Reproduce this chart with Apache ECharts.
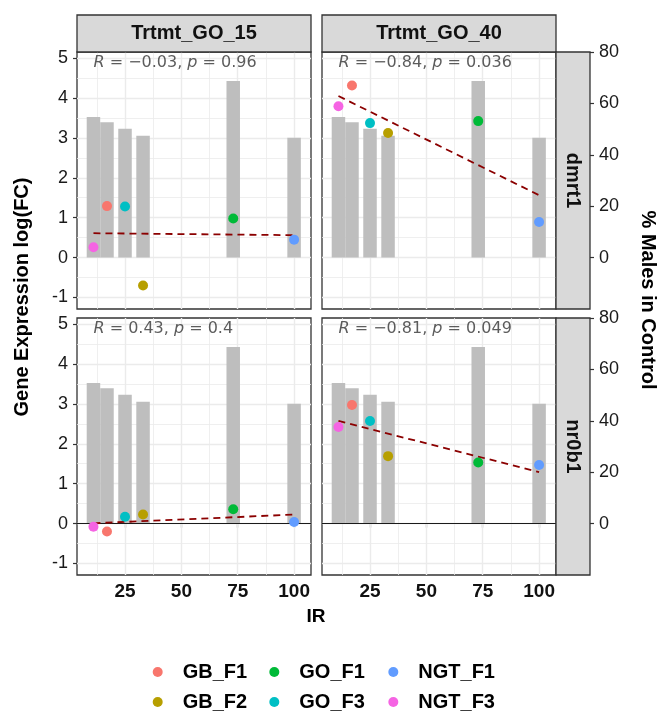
<!DOCTYPE html>
<html><head><meta charset="utf-8">
<script src="https://cdn.jsdelivr.net/npm/echarts@6/dist/echarts.min.js"></script>
<style>html,body{margin:0;padding:0;background:#fff}#c{width:662px;height:717px}</style>
</head><body><div id="c"></div>
<script>
// ---------------- data ----------------
const groups = ['GB_F1', 'GB_F2', 'GO_F1', 'GO_F3', 'NGT_F1', 'NGT_F3'];
const groupColors = ['#F8766D', '#B79F00', '#00BA38', '#00BFC4', '#619CFF', '#F564E3'];
const irValues = [17, 33, 73, 25, 100, 11];
const malesInControl = [52.7, 47.4, 68.7, 50.1, 46.6, 54.7];
const treatments = ['Trtmt_GO_15', 'Trtmt_GO_40'];
const genes = ['dmrt1', 'nr0b1'];
const dmrt1_GO15 = [1.29, -0.70, 0.98, 1.28, 0.45, 0.26];
const dmrt1_GO40 = [4.31, 3.12, 3.42, 3.37, 0.89, 3.79];
const nr0b1_GO15 = [-0.20, 0.23, 0.36, 0.17, 0.04, -0.08];
const nr0b1_GO40 = [2.97, 1.69, 1.53, 2.57, 1.47, 2.42];
const corR = [-0.03, -0.84, 0.43, -0.81];
const corP = ['0.96', '0.036', '0.4', '0.049'];
const xTicks = [25, 50, 75, 100];
const yTicks = [-1, 0, 1, 2, 3, 4, 5];
const secTicks = [0, 20, 40, 60, 80];

// ---------------- layout / scales ----------------
const F = 15.53;            // % males per logFC unit (secondary axis)
const SEC_MIN = -20, SEC_MAX = 80;
const X_MIN = 3.7, X_MAX = 107.5;
const PL = [77, 322], PT = [52, 318], PW = 234, PH = 257, STRIP = 34, STRIP_TOP = 15;
const FONT = 'Liberation Sans';

const panels = [
  { row: 0, col: 0, values: dmrt1_GO15, r: corR[0], p: corP[0] },
  { row: 0, col: 1, values: dmrt1_GO40, r: corR[1], p: corP[1] },
  { row: 1, col: 0, values: nr0b1_GO15, r: corR[2], p: corP[2] },
  { row: 1, col: 1, values: nr0b1_GO40, r: corR[3], p: corP[3] }
];

function minorOf(ticks, lo, hi) {
  const step = ticks[1] - ticks[0];
  const out = [];
  const cand = [ticks[0] - step / 2].concat(ticks.map(t => t + step / 2));
  cand.forEach(v => { if (v > lo && v < hi) out.push(v); });
  return out;
}
function fit(xs, ys) {
  const n = xs.length;
  const mx = xs.reduce((a, b) => a + b, 0) / n, my = ys.reduce((a, b) => a + b, 0) / n;
  let sxy = 0, sxx = 0;
  for (let i = 0; i < n; i++) { sxy += (xs[i] - mx) * (ys[i] - my); sxx += (xs[i] - mx) ** 2; }
  const b = sxy / sxx; return { a: my - b * mx, b };
}
const fmtR = r => (r < 0 ? '−' : '') + Math.abs(r).toFixed(2);

const xMinor = minorOf(xTicks, X_MIN, X_MAX);
const yMinor = minorOf(yTicks, SEC_MIN / F, SEC_MAX / F);

const grids = [], xAxes = [], yAxes = [], series = [];
panels.forEach((pn, k) => {
  const bottom = pn.row === 1, left = pn.col === 0, right = pn.col === 1;
  grids.push({ left: PL[pn.col], top: PT[pn.row], width: PW, height: PH, show: true,
    backgroundColor: '#fff', borderColor: '#333', borderWidth: 1.3, containLabel: false, outerBoundsMode: 'none' });
  xAxes.push({ type: 'value', gridIndex: k, min: X_MIN, max: X_MAX,
    axisLine: { show: false }, splitLine: { show: false },
    axisTick: { show: bottom, length: 4, lineStyle: { color: '#333', width: 1.2 }, customValues: xTicks },
    axisLabel: { show: bottom, customValues: xTicks, fontSize: 19, fontWeight: 'bold', color: '#111', margin: 7, fontFamily: FONT } });
  yAxes.push({ type: 'value', gridIndex: k, position: 'left', min: SEC_MIN / F, max: SEC_MAX / F,
    axisLine: { show: false }, splitLine: { show: false },
    axisTick: { show: left, length: 4, lineStyle: { color: '#333', width: 1.2 }, customValues: yTicks },
    axisLabel: { show: left, customValues: yTicks, fontSize: 18, color: '#1a1a1a', margin: 9, fontFamily: FONT } });
  yAxes.push({ type: 'value', gridIndex: k, position: 'right', offset: STRIP, min: SEC_MIN, max: SEC_MAX, interval: 20,
    show: right, axisLine: { show: false }, splitLine: { show: false },
    axisTick: { show: true, length: 4, lineStyle: { color: '#333', width: 1.2 }, customValues: secTicks },
    axisLabel: { customValues: secTicks, fontSize: 18, color: '#1a1a1a', margin: 9, fontFamily: FONT } });

  // panel grid lines
  const gl = [];
  xTicks.forEach(v => gl.push({ xAxis: v, lineStyle: { width: 1.4 } }));
  xMinor.forEach(v => gl.push({ xAxis: v, lineStyle: { width: 0.8 } }));
  yTicks.forEach(v => gl.push({ yAxis: v, lineStyle: { width: 1.4 } }));
  yMinor.forEach(v => gl.push({ yAxis: v, lineStyle: { width: 0.8 } }));
  series.push({ type: 'line', name: 'grid' + k, xAxisIndex: k, yAxisIndex: 2 * k, data: [], silent: true, z: 1,
    markLine: { silent: true, z: 1, symbol: ['none', 'none'], label: { show: false }, animation: false,
      lineStyle: { color: '#ebebeb', type: 'solid' }, data: gl } });

  // bars: % males in control
  series.push({ type: 'bar', name: 'males' + k, xAxisIndex: k, yAxisIndex: 2 * k + 1, z: 2, silent: true,
    barWidth: 13.5, itemStyle: { color: '#bebebe' },
    data: groups.map((g, i) => [irValues[i], malesInControl[i]]) });

  // regression line
  const f = fit(irValues, pn.values);
  const x0 = Math.min(...irValues), x1 = Math.max(...irValues);
  const reg = { type: 'line', name: 'fit' + k, xAxisIndex: k, yAxisIndex: 2 * k, z: 3, silent: true,
    symbol: 'none', lineStyle: { color: '#8B0000', width: 1.8, type: [7, 5] },
    data: [[x0, f.a + f.b * x0], [x1, f.a + f.b * x1]] };
  if (bottom) reg.markLine = { silent: true, z: 3, symbol: ['none', 'none'], label: { show: false }, animation: false,
    lineStyle: { color: '#1a1a1a', width: 1.1, type: 'solid' }, data: [{ yAxis: 0 }] };
  series.push(reg);

  // points
  groups.forEach((g, i) => {
    series.push({ type: 'scatter', name: g, xAxisIndex: k, yAxisIndex: 2 * k, z: 4,
      symbolSize: 10, itemStyle: { color: groupColors[i], opacity: 1 },
      data: [[irValues[i], pn.values[i]]] });
  });

  // correlation annotation
  series.push({ type: 'scatter', name: 'cor' + k, xAxisIndex: k, yAxisIndex: 2 * k, z: 5, silent: true,
    symbolSize: 0, data: [[x0, 4.88]],
    label: { show: true, position: 'right', distance: 0,
      formatter: '{i|R} = ' + fmtR(pn.r) + ', {i|p} = ' + pn.p,
      fontFamily: 'DejaVu Sans', fontSize: 16, color: '#333',
      rich: { i: { fontStyle: 'italic', fontFamily: 'DejaVu Sans', fontSize: 16, color: '#333' } } } });
});

// strips and titles
const graphic = [];
treatments.forEach((t, c) => {
  graphic.push({ type: 'rect', shape: { x: PL[c], y: STRIP_TOP, width: PW, height: PT[0] - STRIP_TOP },
    style: { fill: '#d9d9d9', stroke: '#333', lineWidth: 1.3 }, z: 10 });
  graphic.push({ type: 'text', x: PL[c] + PW / 2, y: (STRIP_TOP + PT[0]) / 2, z: 11,
    style: { text: t, fontSize: 20, fontWeight: 'bold', fontFamily: FONT, fill: '#111',
      align: 'center', verticalAlign: 'middle', textAlign: 'center', textVerticalAlign: 'middle' } });
});
genes.forEach((g, r) => {
  graphic.push({ type: 'rect', shape: { x: PL[1] + PW, y: PT[r], width: STRIP, height: PH },
    style: { fill: '#d9d9d9', stroke: '#333', lineWidth: 1.3 }, z: 10 });
  graphic.push({ type: 'text', x: PL[1] + PW + STRIP / 2, y: PT[r] + PH / 2, rotation: -Math.PI / 2, z: 11,
    style: { text: g, fontSize: 20, fontWeight: 'bold', fontFamily: FONT, fill: '#111',
      align: 'center', verticalAlign: 'middle', textAlign: 'center', textVerticalAlign: 'middle' } });
});
graphic.push({ type: 'text', x: 22, y: 297, rotation: Math.PI / 2, z: 11,
  style: { text: 'Gene Expression log(FC)', fontSize: 20, fontWeight: 'bold', fontFamily: FONT, fill: '#000',
    align: 'center', verticalAlign: 'middle', textAlign: 'center', textVerticalAlign: 'middle' } });
graphic.push({ type: 'text', x: 648, y: 300, rotation: -Math.PI / 2, z: 11,
  style: { text: '% Males in Control', fontSize: 20, fontWeight: 'bold', fontFamily: FONT, fill: '#000',
    align: 'center', verticalAlign: 'middle', textAlign: 'center', textVerticalAlign: 'middle' } });
graphic.push({ type: 'text', x: 316, y: 617, z: 11,
  style: { text: 'IR', fontSize: 19, fontWeight: 'bold', fontFamily: FONT, fill: '#000',
    align: 'center', verticalAlign: 'middle', textAlign: 'center', textVerticalAlign: 'middle' } });

// legend: 3 columns x 2 rows, one component per entry
const legendLeft = [152.7, 269.3, 388.3];
const legendTop = [662, 692];
const legends = [];
groups.forEach((g, i) => {
  const c = Math.floor(i / 2), r = i % 2;
  legends.push({ orient: 'horizontal', left: legendLeft[c], top: legendTop[r], itemWidth: 10, itemHeight: 10,
    icon: 'circle', selectedMode: false, data: [g], padding: 0,
    textStyle: { fontSize: 20, fontWeight: 'bold', color: '#000', fontFamily: FONT, padding: [0, 0, 0, 15], lineHeight: 20 } });
});

const chart = echarts.init(document.getElementById('c'));
chart.setOption({
  animation: false,
  backgroundColor: '#fff',
  textStyle: { fontFamily: FONT },
  grid: grids, xAxis: xAxes, yAxis: yAxes, series, graphic, legend: legends
});
</script></body></html>
